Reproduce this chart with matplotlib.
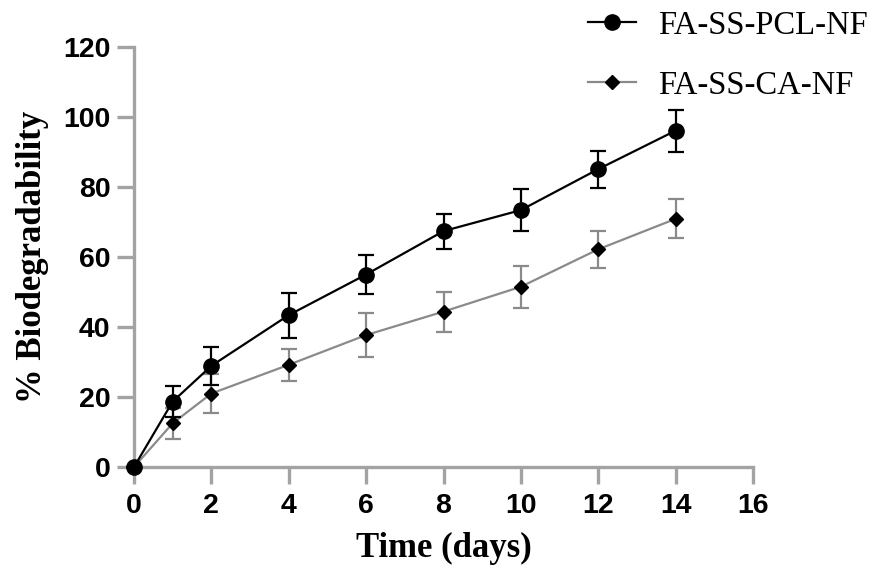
import matplotlib
matplotlib.use("Agg")
import matplotlib.pyplot as plt
from matplotlib.lines import Line2D

days = [0, 1, 2, 4, 6, 8, 10, 12, 14]
pcl_mean = [0, 18.7, 28.9, 43.4, 55.0, 67.4, 73.4, 85.1, 96.1]
pcl_err = [0, 4.5, 5.5, 6.4, 5.5, 5.0, 6.0, 5.3, 6.0]
ca_mean = [0, 12.5, 21.0, 29.2, 37.7, 44.4, 51.5, 62.2, 70.9]
ca_err = [0, 4.5, 5.5, 4.6, 6.4, 5.7, 6.0, 5.3, 5.6]
series_names = ["FA-SS-PCL-NF", "FA-SS-CA-NF"]
x_ticks = [0, 2, 4, 6, 8, 10, 12, 14, 16]
y_ticks = [0, 20, 40, 60, 80, 100, 120]

axis_gray = "#a3a3a3"
ca_gray = "#8a8a8a"

fig = plt.figure(figsize=(8.82, 5.74), dpi=100)
ax = fig.add_axes([134 / 882, 1 - 467 / 574, (753 - 134) / 882, (467 - 47) / 574])

h1 = ax.errorbar(days, pcl_mean, yerr=pcl_err, color="black", lw=1.6,
                 marker="o", markersize=11, capsize=5.5, capthick=1.6,
                 elinewidth=1.6, clip_on=False, zorder=4)
h2 = ax.errorbar(days, ca_mean, yerr=ca_err, color=ca_gray, lw=1.6,
                 marker="D", markersize=7, mfc="black", mec="black",
                 capsize=5.5, capthick=1.6, elinewidth=1.6,
                 clip_on=False, zorder=3)
for h in (h1, h2):
    for part in h.lines[1] + h.lines[2]:
        part.set_clip_on(False)

ax.set_xlim(0, 16)
ax.set_ylim(0, 120)
ax.set_xticks(x_ticks)
ax.set_yticks(y_ticks)

for side in ("top", "right"):
    ax.spines[side].set_visible(False)
for side in ("left", "bottom"):
    ax.spines[side].set_color(axis_gray)
    ax.spines[side].set_linewidth(2.4)

tick_font = {"family": "Liberation Sans", "weight": "bold", "size": 20.5}
ax.tick_params(axis="both", color=axis_gray, width=2.4, direction="out")
ax.tick_params(axis="y", length=12, pad=5)
ax.tick_params(axis="x", length=12, pad=7)
ax.set_xticklabels([str(v) for v in x_ticks], fontdict=tick_font)
ax.set_yticklabels([str(v) for v in y_ticks], fontdict=tick_font)

label_font = {"family": "Liberation Serif", "weight": "bold", "size": 25}
ax.set_xlabel("Time (days)", fontdict=label_font, labelpad=9)
ax.set_ylabel("% Biodegradability", fontdict=label_font, labelpad=10)

legend_handles = [
    Line2D([], [], color="black", lw=1.6, marker="o", markersize=11),
    Line2D([], [], color=ca_gray, lw=1.6, marker="D", markersize=7,
           mfc="black", mec="black"),
]
fig.legend(legend_handles, series_names, loc="upper left",
           bbox_to_anchor=(559 / 882, 1 + 19 / 574),
           frameon=False, prop={"family": "Liberation Serif", "size": 23.5},
           handlelength=1.45, handletextpad=0.7, labelspacing=0.9)

fig.savefig("out.png", dpi=100)
